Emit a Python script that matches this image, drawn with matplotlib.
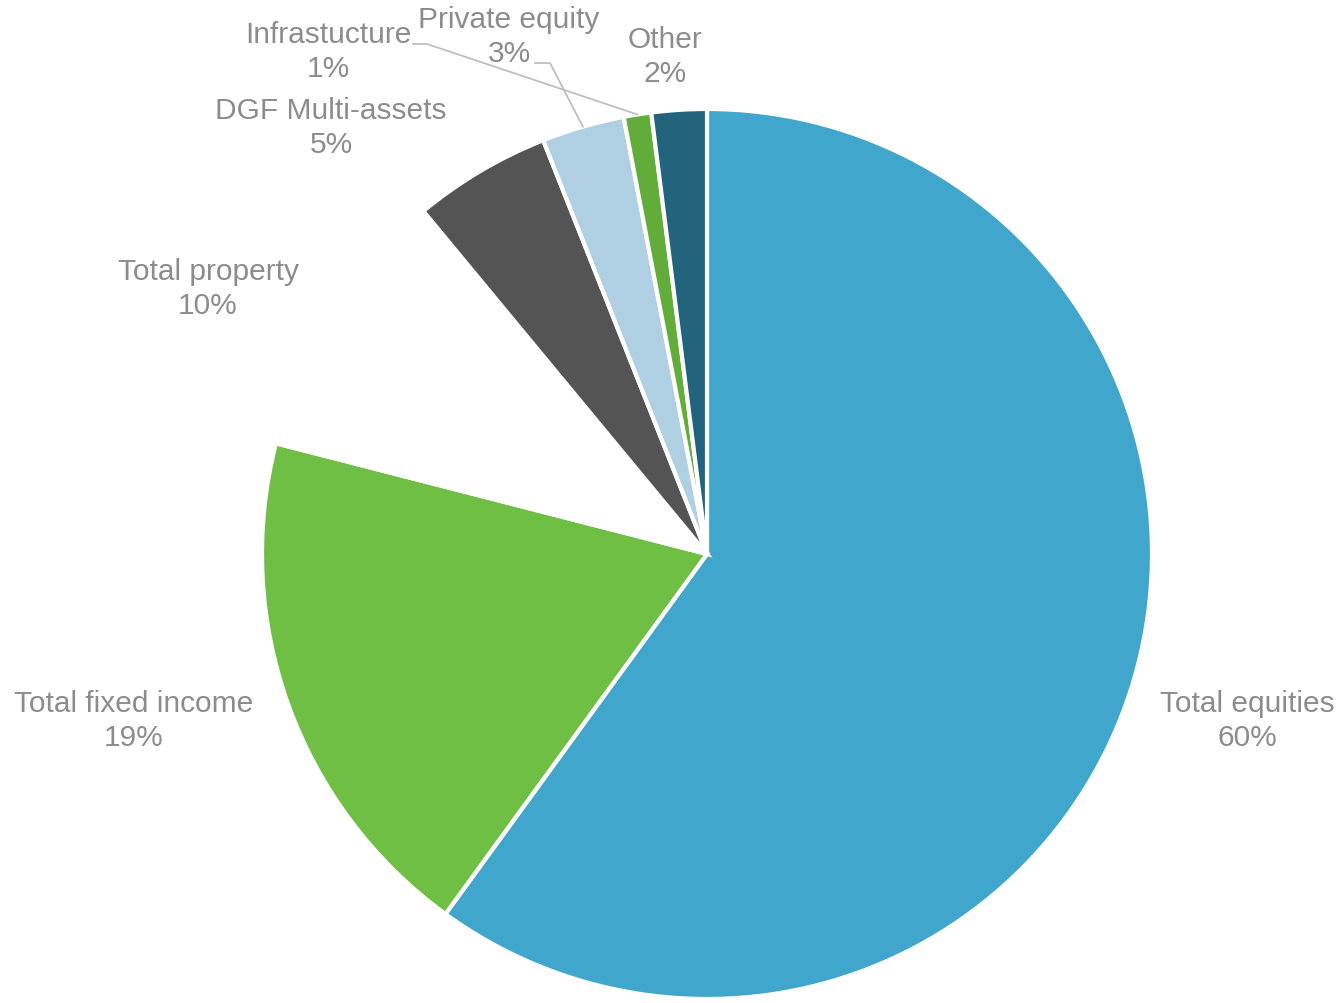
import numpy as np
import matplotlib.pyplot as plt

plt.rcParams['font.family'] = ['Liberation Sans', 'DejaVu Sans']

labels = ['Total equities', 'Total fixed income', 'Total property', 'DGF Multi-assets',
          'Private equity', 'Infrastucture', 'Other']
shares = [60, 19, 10, 5, 3, 1, 2]
colors = ['#41A6CB', '#6FBF44', '#FFFFFF', '#545454', '#AFCFE2', '#62AD39', '#22647E']

# label anchor points (pixel space, y measured from top)
label_pos = [(1247, 721), (134, 721), (208, 289), (331, 128), (509, 37), (328, 52), (665, 57)]

W, H = 1344, 1004
fig = plt.figure(figsize=(W / 100, H / 100), dpi=100)
ax = fig.add_axes([0, 0, 1, 1])

cx, cy, r = 707, H - 555, 445
wedges, _ = ax.pie(shares, colors=colors, startangle=90, counterclock=False,
                   radius=r, center=(cx, cy), frame=True,
                   wedgeprops=dict(edgecolor='white', linewidth=3))
ax.set_xlim(0, W)
ax.set_ylim(0, H)
ax.set_aspect('equal')
ax.axis('off')

grey = '#8C8C8C'
for name, val, (x, y) in zip(labels, shares, label_pos):
    ax.text(x, H - y, f'{name}\n{val}%', ha='center', va='center',
            fontsize=21.5, color=grey, linespacing=1.3)

# leader lines for the two thin slices
def leader(start, elbow, idx):
    w = wedges[idx]
    mid = np.deg2rad((w.theta1 + w.theta2) / 2)
    ex = cx + r * np.cos(mid)
    ey = cy + r * np.sin(mid)
    ax.plot([start[0], elbow[0], ex], [H - start[1], H - elbow[1], ey],
            color='#BFBFBF', lw=1.3, zorder=3)

leader((413, 45), (427, 45), 5)
leader((535, 64), (550, 64), 4)

fig.savefig('out.png', dpi=100, facecolor='white')
